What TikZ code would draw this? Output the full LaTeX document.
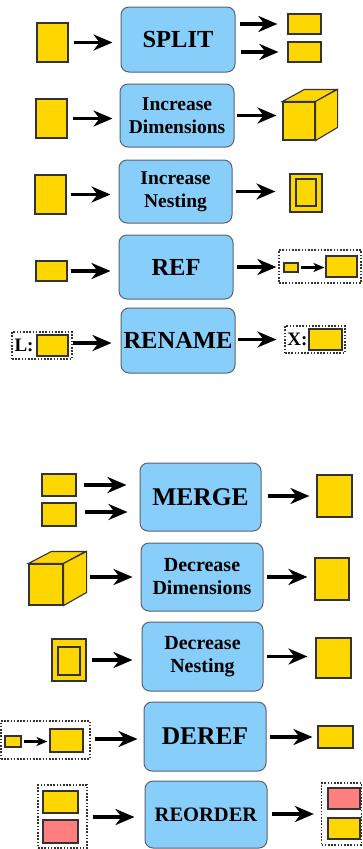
\documentclass[tikz,border=0pt]{standalone}
\usepackage{fontspec}
\setmainfont{Liberation Serif}
\usetikzlibrary{arrows.meta}
\definecolor{gold}{HTML}{FFD700}
\definecolor{opblue}{HTML}{87CEFA}
\definecolor{pinkish}{HTML}{FF7F7F}
\definecolor{opborder}{HTML}{5A6470}
\definecolor{rectborder}{HTML}{333333}
\tikzset{
  opbox/.style={draw=opborder, fill=opblue, line width=1pt, rounded corners=8pt, inner sep=0pt, align=center, font=\bfseries},
  big/.style={font=\fontsize{24.5}{28}\selectfont\bfseries},
  two/.style={font=\fontsize{19.5}{23}\selectfont\bfseries},
  dat/.style={draw=rectborder, fill=gold, line width=1.1pt, inner sep=0pt},
  pnk/.style={draw=rectborder, fill=pinkish, line width=1.1pt, inner sep=0pt},
  dbox/.style={draw=rectborder, dash pattern=on 1.6pt off 1.6pt, line width=1.2pt, inner sep=0pt},
  arr/.style={line width=3.4pt, -{Stealth[length=19pt,width=16pt,inset=6pt]}},
  sarr/.style={line width=2.6pt, -{Stealth[length=11pt,width=9pt,inset=3pt]}},
  lbl/.style={font=\fontsize{19}{22}\selectfont\bfseries, inner sep=0pt},
}
\begin{document}
\begin{tikzpicture}[x=1pt,y=-1pt]
\useasboundingbox[fill=white] (0,0) rectangle (362,849);

% Row 1 SPLIT
\node[dat, minimum width=31, minimum height=39] (in1) at (52.5,42.5) {};
\node[opbox, big, minimum width=114, minimum height=65] (split) at (178,39.5) {SPLIT};
\node[dat, minimum width=33, minimum height=20] (o1a) at (304.5,24) {};
\node[dat, minimum width=33, minimum height=20] (o1b) at (304.5,52) {};
\draw[arr, shorten <=5pt, shorten >=8pt] (in1.east) -- (in1.east -| split.west);
\draw[arr, shorten <=4pt, shorten >=10pt] (o1a.west -| split.east) -- (o1a.west);
\draw[arr, shorten <=5pt, shorten >=9pt] (o1b.west -| split.east) -- (o1b.west);

% Row 2 Increase Dimensions
\node[dat, minimum width=31, minimum height=39] (in2) at (51.5,118.5) {};
\node[opbox, two, minimum width=114, minimum height=63] (incdim) at (177,115.5) {Increase\\Dimensions};
\node[dat, minimum width=32, minimum height=38] (cube2) at (299,121) {};
\draw[dat] (cube2.north west) -- ++(22,-12) -- ++(32,0) -- (cube2.north east) -- cycle;
\draw[dat] (cube2.north east) -- ++(22,-12) -- ++(0,38) -- (cube2.south east) -- cycle;
\draw[arr, shorten <=5pt, shorten >=7pt] (in2.east) -- (in2.east -| incdim.west);
\draw[arr, shorten <=2pt, shorten >=6pt] (incdim.east) -- (incdim.east -| cube2.west);

% Row 3 Increase Nesting
\node[dat, minimum width=31, minimum height=39] (in3) at (50.5,194.5) {};
\node[opbox, two, minimum width=113, minimum height=63] (incnest) at (175.5,191.5) {Increase\\Nesting};
\node[dat, minimum width=32, minimum height=38] (nest3) at (306,193) {};
\node[dat, minimum width=20, minimum height=27] (nest3in) at (306,192.5) {};
\draw[arr, shorten <=4pt, shorten >=8pt] (in3.east) -- (in3.east -| incnest.west);
\draw[arr, shorten <=3pt, shorten >=14pt] (incnest.east) -- (incnest.east -| nest3.west);

% Row 4 REF
\node[dat, minimum width=31, minimum height=20] (in4) at (51.5,271) {};
\node[opbox, big, minimum width=114, minimum height=64] (ref) at (176,267) {REF};
\node[dbox, minimum width=82, minimum height=33] (refout) at (320,266.5) {};
\node[dat, minimum width=14, minimum height=9] (refs) at (291,267.5) {};
\node[dat, minimum width=31, minimum height=21] (refb) at (341.5,266.5) {};
\draw[sarr, shorten <=2pt, shorten >=1pt] (refs.east) -- (refs.east -| refb.west);
\draw[arr, shorten <=3pt, shorten >=8pt] (in4.east) -- (in4.east -| ref.west);
\draw[arr, shorten <=3pt, shorten >=2pt] (ref.east) -- (ref.east -| refout.west);

% Row 5 RENAME
\node[dbox, minimum width=60, minimum height=27] (renin) at (42,345.5) {};
\node[lbl] (lL) at (24,345.5) {L:};
\node[dat, minimum width=31, minimum height=21] (renr) at (52.5,345.5) {};
\node[opbox, big, minimum width=114, minimum height=65] (rename) at (178,340.5) {RENAME};
\node[dbox, minimum width=60, minimum height=27] (renout) at (315,339.5) {};
\node[lbl] (lX) at (297.5,339.5) {X:};
\node[dat, minimum width=33, minimum height=21] (renr2) at (325.5,339.5) {};
\draw[arr, shorten <=0pt, shorten >=9pt] (renin.east |- 0,343) -- (rename.west |- 0,343);
\draw[arr, shorten <=2pt, shorten >=8pt] (renout.west -| rename.east) -- (renout.west);

% Row 6 MERGE
\node[dat, minimum width=34, minimum height=22] (m1) at (59,485) {};
\node[dat, minimum width=34, minimum height=23] (m2) at (59,514.5) {};
\node[opbox, big, font=\fontsize{25.5}{29}\selectfont\bfseries, minimum width=121, minimum height=68] (merge) at (200.5,497) {MERGE};
\node[dat, minimum width=35, minimum height=42] (mo) at (334.5,496) {};
\draw[arr, shorten <=7pt, shorten >=13pt] (m1.east) -- (m1.east -| merge.west);
\draw[arr, shorten <=8pt, shorten >=12pt] (m2.east |- 0,512) -- (merge.west |- 0,512);
\draw[arr, shorten <=6pt, shorten >=7pt] (mo.west -| merge.east) -- (mo.west);

% Row 7 Decrease Dimensions
\node[dat, minimum width=34, minimum height=41] (cube7) at (46,584.5) {};
\draw[dat] (cube7.north west) -- ++(23,-12) -- ++(34,0) -- (cube7.north east) -- cycle;
\draw[dat] (cube7.north east) -- ++(23,-12) -- ++(0,41) -- (cube7.south east) -- cycle;
\node[opbox, two, font=\fontsize{20}{23}\selectfont\bfseries, minimum width=122, minimum height=68] (decdim) at (202,577) {Decrease\\Dimensions};
\node[dat, minimum width=34, minimum height=42] (do7) at (332,579) {};
\draw[arr, shorten <=26pt, shorten >=8pt] (decdim.west -| cube7.east) -- (decdim.west);
\draw[arr, shorten <=3pt, shorten >=7pt] (decdim.east) -- (decdim.east -| do7.west);

% Row 8 Decrease Nesting
\node[dat, minimum width=34, minimum height=42] (nest8) at (69,660) {};
\node[dat, minimum width=22, minimum height=28] (nest8in) at (69,661) {};
\node[opbox, two, font=\fontsize{20}{23}\selectfont\bfseries, minimum width=121, minimum height=69] (decnest) at (202.5,656.5) {Decrease\\Nesting};
\node[dat, minimum width=35, minimum height=40] (do8) at (333.5,658) {};
\draw[arr, shorten <=5pt, shorten >=9pt] (nest8.east) -- (nest8.east -| decnest.west);
\draw[arr, shorten <=3pt, shorten >=8pt] (decnest.east) -- (decnest.east -| do8.west);

% Row 9 DEREF
\node[dbox, minimum width=89, minimum height=38] (derin) at (45.5,740) {};
\node[dat, minimum width=16, minimum height=11] (ders) at (13,741.5) {};
\node[dat, minimum width=33, minimum height=23] (derb) at (66.5,740.5) {};
\draw[sarr, shorten <=2pt, shorten >=2pt] (ders.east) -- (ders.east -| derb.west);
\node[opbox, big, font=\fontsize{25.5}{29}\selectfont\bfseries, minimum width=122, minimum height=69] (deref) at (205,736.5) {DEREF};
\node[dat, minimum width=35, minimum height=22] (do9) at (335.5,737) {};
\draw[arr, shorten <=4pt, shorten >=6pt] (derin.east |- 0,739) -- (deref.west |- 0,739);
\draw[arr, shorten <=3pt, shorten >=5pt] (do9.west -| deref.east) -- (do9.west);

% Row 10 REORDER
\node[dbox, minimum width=49, minimum height=63] (rin) at (62.5,816.5) {};
\node[dat, minimum width=35, minimum height=22] (ry) at (60.5,802) {};
\node[pnk, minimum width=35, minimum height=23] (rp) at (60.5,831.5) {};
\node[opbox, font=\fontsize{20.5}{24}\selectfont\bfseries, minimum width=122, minimum height=67] (reorder) at (206,814.5) {REORDER};
\node[dbox, minimum width=40, minimum height=62] (rout) at (341.5,814) {};
\node[pnk, minimum width=32, minimum height=21] (rp2) at (344,798.5) {};
\node[dat, minimum width=32, minimum height=21] (ry2) at (344,828.5) {};
\draw[arr, shorten <=5pt, shorten >=10pt] (rin.east |- 0,817) -- (reorder.west |- 0,817);
\draw[arr, shorten <=4pt, shorten >=7pt] (rout.west -| reorder.east) -- (rout.west);
\end{tikzpicture}
\end{document}
